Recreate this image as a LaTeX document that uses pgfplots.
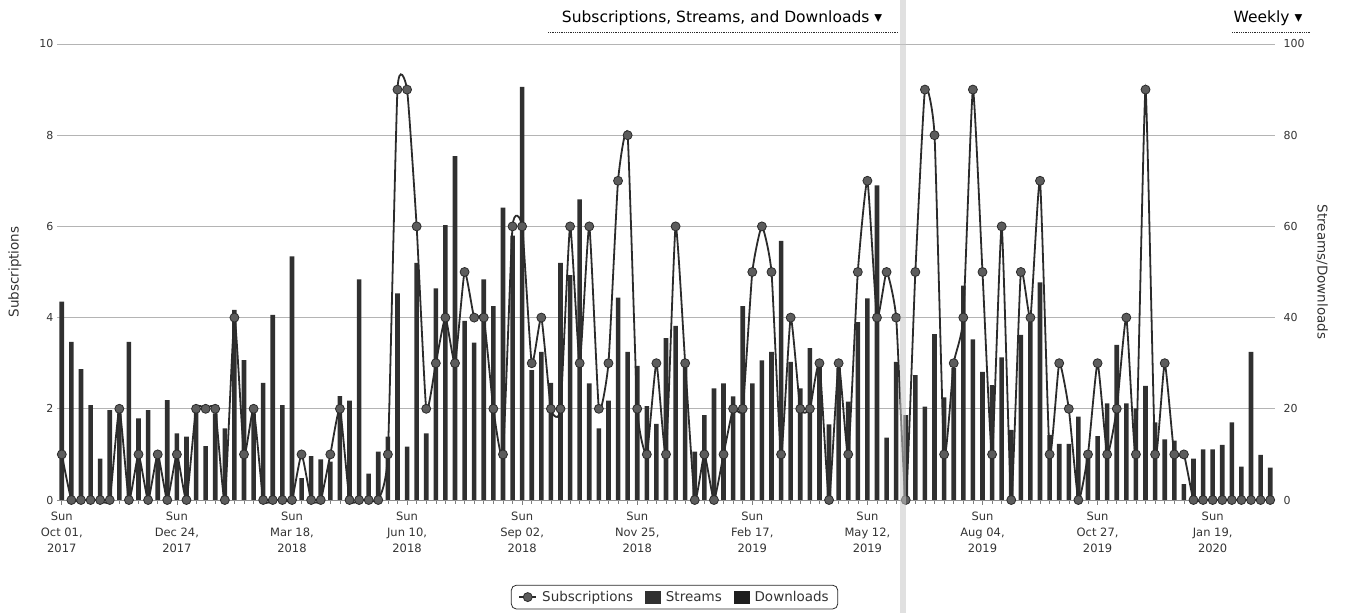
\documentclass[border=0pt]{standalone}
\usepackage{pgfplots}
\pgfplotsset{compat=1.18}
\usepackage{pgfplotstable}
\usepackage{fontspec}
\setmainfont{DejaVu Sans}
\definecolor{linec}{HTML}{2B2B2B}
\definecolor{markc}{HTML}{5C5C5C}
\definecolor{streamc}{HTML}{303030}
\definecolor{dlc}{HTML}{1E1E1E}
\definecolor{txtc}{HTML}{333333}
\definecolor{gridc}{HTML}{B4B4B4}

\pgfplotstableread{
x s st dl
0 1 43.5 0
1 0 34.7 0
2 0 28.7 0
3 0 20.8 0
4 0 9.1 0
5 0 19.7 0
6 2 19 0
7 0 34.7 0
8 1 17.9 0
9 0 19.7 0
10 1 9 0
11 0 21.9 0
12 1 14.6 0
13 0 13.9 0
14 2 20 0
15 2 11.8 0
16 2 19 0
17 0 15.7 0
18 4 41.7 0
19 1 30.7 0
20 2 19 0
21 0 25.7 0
22 0 40.6 0
23 0 20.8 0
24 0 53.4 0
25 1 4.8 0
26 0 9.6 0
27 0 8.9 0
28 1 8.4 0
29 2 22.8 0
30 0 21.8 0
31 0 48.4 0
32 0 5.8 0
33 0 10.6 0
34 1 13.9 0
35 9 45.3 0
36 9 11.7 0
37 6 52 0
38 2 14.6 0
39 3 46.4 0
40 4 60.3 0
41 3 75.4 0
42 5 39.3 0
43 4 34.5 0
44 4 48.4 0
45 2 42.5 0
46 1 64.1 0
47 6 58 0
48 6 90.6 0
49 3 28.5 0
50 4 32.5 0
51 2 25.7 0
52 2 52 0
53 6 49.3 0
54 3 65.9 0
55 6 25.6 0
56 2 15.7 0
57 3 21.8 0
58 7 44.4 0
59 8 32.5 0
60 2 29.4 0
61 1 20.6 0
62 3 16.7 0
63 1 35.5 0
64 6 38.2 0
65 3 30 0
66 0 10.6 0
67 1 18.6 0
68 0 24.5 0
69 1 25.6 0
70 2 22.7 0
71 2 42.5 0
72 5 25.6 0
73 6 30.6 0
74 5 32.5 0
75 1 56.8 0
76 4 30.3 0
77 2 24.5 0
78 2 33.3 0
79 3 30 0
80 0 16.6 0
81 3 29 0
82 1 21.6 0
83 5 39 0
84 7 44.2 0
85 4 69 0
86 5 13.7 0
87 4 30.3 0
88 0 18.6 0
89 5 27.4 0
90 9 20.5 0
91 8 36.4 0
92 1 22.5 0
93 3 29 0
94 4 47 0
95 9 35.2 0
96 5 28.1 0
97 1 25.2 0
98 6 31.3 0
99 0 15.4 0
100 5 36.2 0
101 4 39 0
102 7 47.7 0
103 1 14.3 0
104 3 12.3 0
105 2 12.3 0
106 0 18.3 0
107 1 10 0
108 3 14 0
109 1 21.2 0
110 2 34 0
111 4 21.2 0
112 1 20.1 0
113 9 25 0
114 1 17 0
115 3 13.3 0
116 1 13 0
117 1 3.5 0
118 0 9.1 0
119 0 11.1 0
120 0 11.1 0
121 0 12.1 0
122 0 17 0
123 0 7.3 0
124 0 32.5 0
125 0 9.9 0
126 0 7.1 0
}\data

\begin{document}
\begin{tikzpicture}[x=1pt,y=1pt]
\begin{axis}[
  at={(57pt,113pt)}, anchor=south west,
  scale only axis, width=1218pt, height=456pt,
  xmin=-0.5, xmax=126.5, ymin=0, ymax=100,
  ybar stacked, bar width=4.6pt,
  axis x line*=bottom, axis y line*=right,
  y axis line style={draw=none},
  x axis line style={draw=gridc!80!black, line width=0.8pt},
  ytick={0,20,...,100},
  ytick style={draw=none},
  ymajorgrids, grid style={draw=gridc, line width=0.7pt},
  xtick={0,12,...,120},
  minor xtick={0,1,...,126},
  xtick style={draw=gridc!70!black, line width=0.6pt},
  minor tick length=4pt, major tick length=5pt, tick align=outside,
  xticklabels={{Sun\\Oct 01,\\2017},{Sun\\Dec 24,\\2017},{Sun\\Mar 18,\\2018},{Sun\\Jun 10,\\2018},{Sun\\Sep 02,\\2018},{Sun\\Nov 25,\\2018},{Sun\\Feb 17,\\2019},{Sun\\May 12,\\2019},{Sun\\Aug 04,\\2019},{Sun\\Oct 27,\\2019},{Sun\\Jan 19,\\2020}},
  xticklabel style={align=center, font=\fontsize{11.5}{16}\selectfont, text=txtc, yshift=-3pt},
  yticklabel style={font=\fontsize{11}{13}\selectfont, text=txtc},
  /pgf/number format/assume math mode=true,
  ylabel={Streams/Downloads},
  ylabel style={at={(axis description cs:1.0386,0.5)}, anchor=center, rotate=180, font=\fontsize{13.5}{16}\selectfont, text=txtc},
]
\addplot[fill=streamc, draw=none] table[x=x,y=st]{\data};
\addplot[fill=dlc, draw=none] table[x=x,y=dl]{\data};
\end{axis}
\begin{axis}[
  at={(57pt,113pt)}, anchor=south west,
  scale only axis, width=1218pt, height=456pt,
  xmin=-0.5, xmax=126.5, ymin=0, ymax=10,
  axis y line*=left, axis x line=none,
  y axis line style={draw=none},
  ytick={0,2,...,10}, ytick style={draw=none},
  yticklabel style={font=\fontsize{11}{13}\selectfont, text=txtc},
  /pgf/number format/assume math mode=true,
  clip=false,
  ylabel={Subscriptions},
  ylabel style={at={(axis description cs:-0.0345,0.5)}, anchor=center, font=\fontsize{13.5}{16}\selectfont, text=txtc},
  legend style={at={(0.507,-0.186)}, anchor=north, legend columns=-1,
    draw=linec, line width=0.8pt, rounded corners=5pt,
    font=\fontsize{13.5}{16}\selectfont, text=txtc,
    inner xsep=7pt, inner ysep=4pt,
    /tikz/every odd column/.append style={column sep=3pt},
    /tikz/every even column/.append style={column sep=10pt}},
]
\addplot[smooth, tension=0.28, linec, line width=1.8pt, mark=*, mark size=4.5pt,
  mark options={fill=markc, draw=linec, line width=0.8pt}] table[x=x,y=s]{\data};
\addlegendentry{Subscriptions}
\addlegendimage{legend image code/.code={\fill[streamc, sharp corners] (0pt,-6pt) rectangle (15pt,6pt);}}
\addlegendentry{Streams}
\addlegendimage{legend image code/.code={\fill[dlc, sharp corners] (0pt,-6pt) rectangle (15pt,6pt);}}
\addlegendentry{Downloads}
\end{axis}
% header
\node[anchor=center, font=\fontsize{15.5}{18}\selectfont, text=black] at (722,595) {Subscriptions, Streams, and Downloads \char"25BE};
\draw[linec, densely dotted, line width=0.8pt] (548,581) -- (898,581);
\node[anchor=center, font=\fontsize{15.5}{18}\selectfont, text=black] at (1268,595) {Weekly \char"25BE};
\draw[linec, densely dotted, line width=0.8pt] (1232,581) -- (1310,581);
\fill[gray!45, opacity=0.55] (900,0) rectangle (906,613);
\pgfresetboundingbox
\path (0,0) rectangle (1346,613);
\end{tikzpicture}
\end{document}
